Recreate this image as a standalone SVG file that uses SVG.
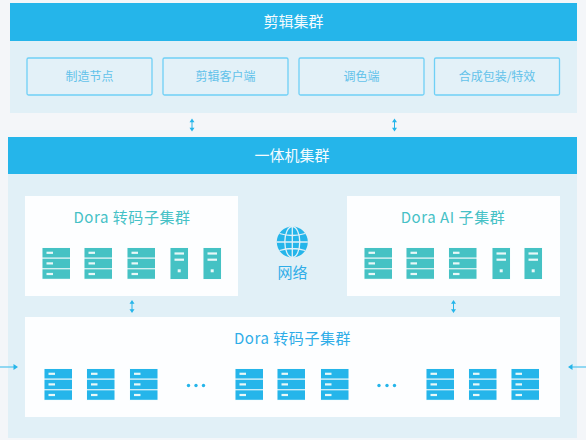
<svg xmlns="http://www.w3.org/2000/svg" width="586" height="440" viewBox="0 0 586 440">
<style>
text{font-family:"Noto Sans CJK SC","Liberation Sans",sans-serif;text-anchor:middle}
.h{fill:#25b5ea}.b{fill:#e1f0f7}.c{fill:#fdfeff}
.ht{fill:#f5fbfe;font-size:15px}
.bx{fill:#e3f1f8;stroke:#6fd0f6;stroke-width:1.3}
.bt{fill:#62c2ea;font-size:12px}
.tt{fill:#45c1c6;font-size:15px;letter-spacing:.55px}
.tb{fill:#2fade8;font-size:15px;letter-spacing:.55px}
.arr{stroke:#25b5ea;stroke-width:1;fill:none}
.arrh{stroke:#6fcdf0;stroke-width:1.4;fill:none}
.ah{fill:#25b5ea}
.t{fill:#45c2c4}.g{fill:#25b5ea}.w{fill:#e8f8f8}
</style>
<defs>
<g id="rack"><rect class="w" opacity=".45" x="-.5" y="-.5" width="28" height="32"/>
<rect x="0" y="0" width="27.500" height="9.500"/><rect x="0" y="10.700" width="27.500" height="9.500"/><rect x="0" y="21.300" width="27.500" height="9.500"/>
<rect class="w" x="4" y="3.700" width="6.500" height="2.200"/><rect class="w" x="4" y="14.300" width="6.500" height="2.200"/><rect class="w" x="4" y="24.900" width="6.500" height="2.200"/></g>
<g id="tower"><rect class="w" opacity=".45" x="-.5" y="-.5" width="18.500" height="32"/><rect x="0" y="0" width="17.500" height="31"/>
<rect class="w" x="4" y="4.400" width="9.500" height="2.200"/><rect class="w" x="4" y="10.600" width="9.500" height="2.200"/><rect class="w" x="7.200" y="21.300" width="3" height="3"/></g>
<g id="v"><path class="arr" d="M0 3V10"/><path class="ah" d="M0 0L2.500 3.800H-2.500ZM0 13L2.500 9.200H-2.500Z"/></g>
</defs>
<rect width="586" height="440" fill="#f4f6f9"/>
<g id="edit-cluster">
<rect class="b" x="10" y="3" width="567" height="110"/>
<rect class="h" x="10" y="3" width="567" height="38"/>
<text class="ht" x="293.500" y="27">剪辑集群</text>
</g>
<g id="node-make"><rect class="bx" x="27" y="58" width="125" height="37" rx="1.500"/><text class="bt" x="89.500" y="81">制造节点</text></g>
<g id="node-client"><rect class="bx" x="163" y="58" width="125" height="37" rx="1.500"/><text class="bt" x="225.500" y="81">剪辑客户端</text></g>
<g id="node-color"><rect class="bx" x="299" y="58" width="125" height="37" rx="1.500"/><text class="bt" x="361.500" y="81">调色端</text></g>
<g id="node-fx"><rect class="bx" x="434.500" y="58" width="125" height="37" rx="1.500"/><text class="bt" x="497" y="81">合成包装/特效</text></g>
<g id="appliance-cluster">
<rect class="b" x="8" y="137" width="569" height="301"/>
<rect class="h" x="8" y="137" width="569" height="37"/>
<text class="ht" x="292" y="161">一体机集群</text>
</g>
<g id="dora-transcode-a">
<rect class="c" x="25" y="196" width="213" height="100"/>
<text class="tt" x="132" y="223">Dora 转码子集群</text>
<g class="t"><use href="#rack" x="42.500" y="248"/><use href="#rack" x="84.500" y="248"/><use href="#rack" x="127.500" y="248"/><use href="#tower" x="170.500" y="248"/><use href="#tower" x="203.500" y="248"/></g>
</g>
<g id="dora-ai">
<rect class="c" x="347" y="196" width="213" height="100"/>
<text class="tt" x="453" y="223">Dora AI 子集群</text>
<g class="t"><use href="#rack" x="364.500" y="248"/><use href="#rack" x="406.500" y="248"/><use href="#rack" x="449" y="248"/><use href="#tower" x="492.500" y="248"/><use href="#tower" x="524.500" y="248"/></g>
</g>
<g id="network">
<circle cx="292.300" cy="242" r="15.500" fill="#25b5ea"/>
<g fill="none" stroke="#e1f0f7" stroke-width="1.300"><ellipse cx="292.300" cy="242" rx="7.500" ry="15.500"/><path d="M292.300 226.500V257.500M276.800 242H307.800M279.500 233.500Q292.300 237.500 305.100 233.500M279.500 250.500Q292.300 246.500 305.100 250.500"/></g>
<text x="292.500" y="277.500" font-size="15" fill="#2fade8">网络</text>
</g>
<g id="dora-transcode-b">
<rect class="c" x="25" y="317" width="535" height="100"/>
<text class="tb" x="292.500" y="344">Dora 转码子集群</text>
<g class="g"><use href="#rack" x="44.500" y="369"/><use href="#rack" x="87" y="369"/><use href="#rack" x="130" y="369"/><use href="#rack" x="235.500" y="369"/><use href="#rack" x="277.500" y="369"/><use href="#rack" x="321" y="369"/><use href="#rack" x="426.500" y="369"/><use href="#rack" x="469" y="369"/><use href="#rack" x="511.500" y="369"/>
<circle cx="188.500" cy="385.500" r="1.700"/><circle cx="196" cy="385.500" r="1.700"/><circle cx="203.500" cy="385.500" r="1.700"/><circle cx="379" cy="385.500" r="1.700"/><circle cx="387" cy="385.500" r="1.700"/><circle cx="394.500" cy="385.500" r="1.700"/></g>
</g>
<g id="connectors">
<use href="#v" x="192" y="118.500"/><use href="#v" x="394.500" y="118.500"/>
<use href="#v" x="132" y="300"/><use href="#v" x="453.500" y="300"/>
<path class="arrh" d="M0 367H14M586 367H572"/>
<path class="ah" d="M18 367L13.500 364V370ZM568 367L572.500 364V370Z"/>
</g>
</svg>
